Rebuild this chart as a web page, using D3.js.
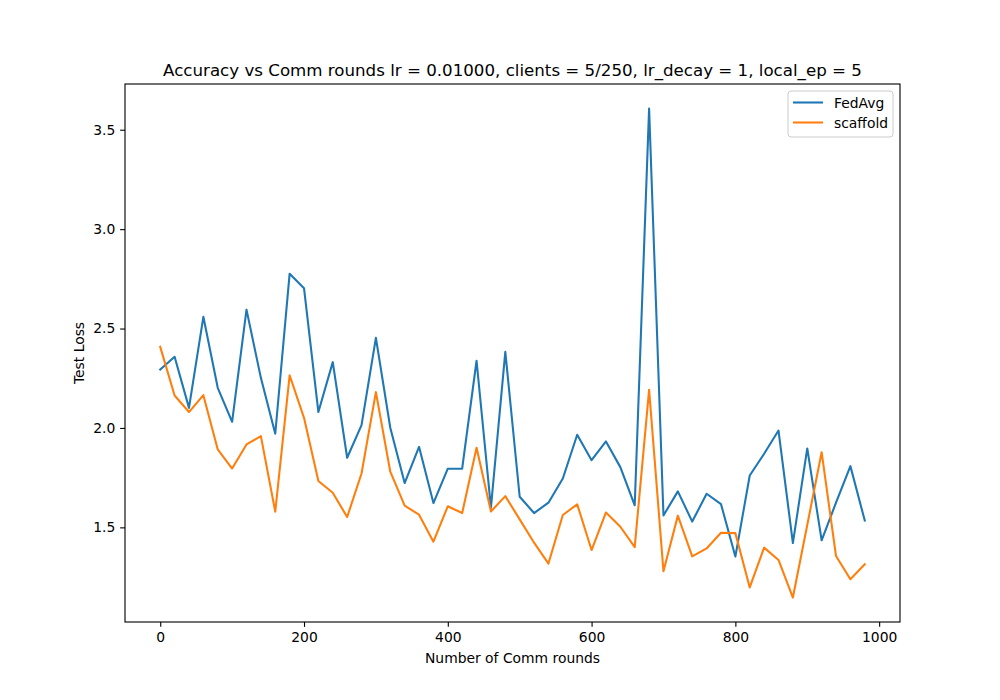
<!DOCTYPE html>
<html>
<head>
<meta charset="utf-8">
<script src="https://cdn.jsdelivr.net/npm/d3@7"></script>
<style>
  body { margin: 0; background: #fff; }
  text { font-family: "DejaVu Sans", sans-serif; fill: #000; }
</style>
</head>
<body>
<div id="chart"></div>
<script>
const rounds = d3.range(0, 1000, 20)

const fedAvg = [
  2.294, 2.358, 2.101, 2.559, 2.202, 2.031, 2.595, 2.252, 1.971, 2.776,
  2.703, 2.080, 2.331, 1.850, 2.014, 2.453, 2.001, 1.723, 1.905, 1.622,
  1.795, 1.795, 2.338, 1.599, 2.383, 1.654, 1.572, 1.624, 1.746, 1.966,
  1.838, 1.932, 1.803, 1.611, 3.607, 1.560, 1.681, 1.529, 1.669, 1.617,
  1.353, 1.761, 1.870, 1.987, 1.421, 1.897, 1.435, 1.624, 1.808, 1.534
]

const scaffold = [
  2.408, 2.163, 2.080, 2.165, 1.892, 1.796, 1.917, 1.959, 1.579, 2.265,
  2.051, 1.733, 1.674, 1.552, 1.771, 2.180, 1.780, 1.609, 1.564, 1.428,
  1.606, 1.572, 1.900, 1.580, 1.657, 1.540, 1.423, 1.318, 1.562, 1.616,
  1.386, 1.575, 1.503, 1.401, 2.192, 1.279, 1.559, 1.354, 1.394, 1.473,
  1.471, 1.198, 1.398, 1.336, 1.147, 1.512, 1.878, 1.356, 1.239, 1.314
]

const seriesNames = ["FedAvg", "scaffold"]
const seriesColors = ["#1f77b4", "#ff7f0e"]
const xTicks = [0, 200, 400, 600, 800, 1000]
const yTicks = [1.5, 2.0, 2.5, 3.0, 3.5]

const W = 1000, H = 700
const margin = { top: 84, right: 100, bottom: 78, left: 125 }
const width = W - margin.left - margin.right
const height = H - margin.top - margin.bottom

const svg = d3.select("#chart").append("svg")
  .attr("width", W)
  .attr("height", H)

const g = svg.append("g").attr("transform", `translate(${margin.left},${margin.top})`)

// matplotlib style 5% padding
const xMin = d3.min(rounds), xMax = d3.max(rounds)
const xPad = (xMax - xMin) * 0.05
const x = d3.scaleLinear().domain([xMin - xPad, xMax + xPad]).range([0, width])

const allY = fedAvg.concat(scaffold)
const yMin = d3.min(allY), yMax = d3.max(allY)
const yPad = (yMax - yMin) * 0.05
const y = d3.scaleLinear().domain([yMin - yPad, yMax + yPad]).range([height, 0])

const line = d3.line()
  .x((d, i) => x(rounds[i]))
  .y(d => y(d))

const series = [fedAvg, scaffold]
series.forEach((s, k) => {
  g.append("path")
    .datum(s)
    .attr("fill", "none")
    .attr("stroke", seriesColors[k])
    .attr("stroke-width", 2.08)
    .attr("stroke-linejoin", "round")
    .attr("stroke-linecap", "square")
    .attr("d", line)
})

// axes
const xAxis = g.append("g")
  .attr("transform", `translate(0,${height})`)
  .call(d3.axisBottom(x).tickValues(xTicks).tickFormat(d3.format("d")).tickSize(4.86).tickPadding(4.86))
const yAxis = g.append("g")
  .call(d3.axisLeft(y).tickValues(yTicks).tickFormat(d3.format(".1f")).tickSize(4.86).tickPadding(4.86))

;[xAxis, yAxis].forEach(a => {
  a.select(".domain").remove()
  a.selectAll(".tick line").attr("stroke", "#000").attr("stroke-width", 1.11)
  a.selectAll(".tick text")
    .attr("font-family", "DejaVu Sans")
    .attr("font-size", "13.89px")
    .attr("fill", "#000")
})

// frame
g.append("rect")
  .attr("width", width)
  .attr("height", height)
  .attr("fill", "none")
  .attr("stroke", "#000")
  .attr("stroke-width", 1.11)

// title and labels
svg.append("text")
  .attr("x", margin.left + width / 2)
  .attr("y", margin.top - 8)
  .attr("text-anchor", "middle")
  .attr("font-size", "16.67px")
  .text("Accuracy vs Comm rounds lr = 0.01000, clients = 5/250, lr_decay = 1, local_ep = 5")

svg.append("text")
  .attr("x", margin.left + width / 2)
  .attr("y", margin.top + height + 41)
  .attr("text-anchor", "middle")
  .attr("font-size", "13.89px")
  .text("Number of Comm rounds")

svg.append("text")
  .attr("transform", `translate(84,${margin.top + height / 2}) rotate(-90)`)
  .attr("text-anchor", "middle")
  .attr("font-size", "13.89px")
  .text("Test Loss")

// legend
const legend = g.append("g").attr("transform", `translate(${width - 112},7)`)
legend.append("rect")
  .attr("width", 105)
  .attr("height", 46)
  .attr("rx", 3)
  .attr("fill", "#fff")
  .attr("fill-opacity", 0.8)
  .attr("stroke", "#ccc")
  .attr("stroke-width", 1)

seriesNames.forEach((name, k) => {
  const row = legend.append("g").attr("transform", `translate(0,${11.5 + k * 20})`)
  row.append("line")
    .attr("x1", 5).attr("x2", 35)
    .attr("stroke", seriesColors[k])
    .attr("stroke-width", 2.08)
  row.append("text")
    .attr("x", 46)
    .attr("y", 5)
    .attr("font-size", "13.89px")
    .text(name)
})
</script>
</body>
</html>
